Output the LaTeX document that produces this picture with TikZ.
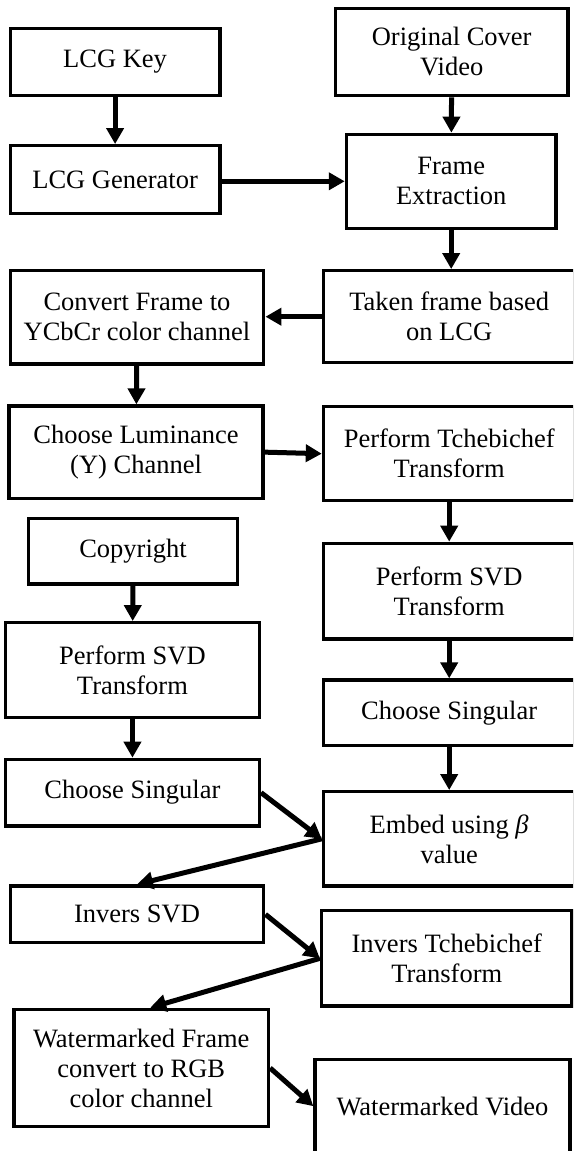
\documentclass[tikz,border=0pt]{standalone}
\usepackage{fontspec}
\setmainfont{Liberation Serif}
\usetikzlibrary{arrows.meta}
\tikzset{
  blk/.style={draw, line width=3.3pt, align=center, inner sep=0pt,
    font=\fontsize{26.5}{30}\selectfont},
  arr/.style={line width=5pt, -{Triangle[length=16pt,width=17pt]}}
}
\begin{document}
\begin{tikzpicture}[x=1pt,y=-1pt]
\clip (0,0) rectangle (573,1151);
% left column
\node[blk, minimum width=209.8pt, minimum height=67.4pt] (key) at (115.1,62) {LCG Key};
\node[blk, minimum width=209.8pt, minimum height=67.6pt] (gen) at (115.1,179.5) {LCG Generator};
\node[blk, minimum width=253.6pt, minimum height=93.3pt] (convert) at (137,317.35) {Convert Frame to\\YCbCr color channel};
\node[blk, minimum width=253.9pt, minimum height=92.3pt] (lum) at (136.05,452.15) {Choose Luminance\\(Y) Channel};
\node[blk, minimum width=209pt, minimum height=65.7pt] (copy) at (133,551.15) {Copyright};
\node[blk, minimum width=253.9pt, minimum height=95pt] (svdL) at (132.45,670.2) {Perform SVD\\Transform};
\node[blk, minimum width=253.9pt, minimum height=66.7pt] (csL) at (132.45,792.65) {Choose Singular};
\node[blk, minimum width=253.6pt, minimum height=56.7pt] (isvd) at (137,914.35) {Invers SVD};
\node[blk, minimum width=254.5pt, minimum height=117.4pt] (wf) at (141.25,1068) {Watermarked Frame\\convert to RGB\\color channel};
% right column
\node[blk, minimum width=232.6pt, minimum height=87.4pt] (orig) at (451.7,52) {Original Cover\\Video};
\node[blk, minimum width=209.6pt, minimum height=94pt] (frame) at (451.2,181.3) {Frame\\Extraction};
\node[blk, minimum width=251.6pt, minimum height=92pt] (taken) at (449.2,316.7) {Taken frame based\\on LCG};
\node[blk, minimum width=251.6pt, minimum height=94pt] (tcheb) at (449.2,453.7) {Perform Tchebichef\\Transform};
\node[blk, minimum width=251.6pt, minimum height=95.7pt] (svdR) at (449.2,591.15) {Perform SVD\\Transform};
\node[blk, minimum width=251.6pt, minimum height=65.7pt] (csR) at (449.2,712.85) {Choose Singular};
\node[blk, minimum width=251.6pt, minimum height=94.3pt] (embed) at (449.2,838.85) {Embed using \textit{β}\\value};
\node[blk, minimum width=250.5pt, minimum height=95.3pt] (itch) at (446.75,958.35) {Invers Tchebichef\\Transform};
\node[blk, minimum width=255pt, minimum height=93.7pt] (wv) at (442.5,1106.15) {Watermarked Video};
% connectors
\draw[arr] (key) -- (gen);
\draw[arr] (orig) -- (frame);
\draw[arr] (gen.east |- frame.west) -- (frame.west);
\draw[arr] (frame.south) -- (frame.south |- taken.north);
\draw[arr] (taken.west) -- (convert.east |- taken.west);
\draw[arr] (convert) -- (lum);
\draw[arr] (lum.east) -- (tcheb.west);
\draw[arr] (tcheb.south) -- (tcheb.south |- svdR.north);
\draw[arr] (copy) -- (svdL);
\draw[arr] (svdL) -- (csL);
\draw[arr] (svdR) -- (csR);
\draw[arr] (csR) -- (embed);
\draw[arr] (csL.east) -- (embed.west);
\draw[arr] (embed.west) -- (isvd.north);
\draw[arr] (isvd.east) -- (itch.west);
\draw[arr] (itch.west) -- ([xshift=9pt]wf.north);
\draw[arr] (wf.east) -- (wv.west);
\end{tikzpicture}
\end{document}
